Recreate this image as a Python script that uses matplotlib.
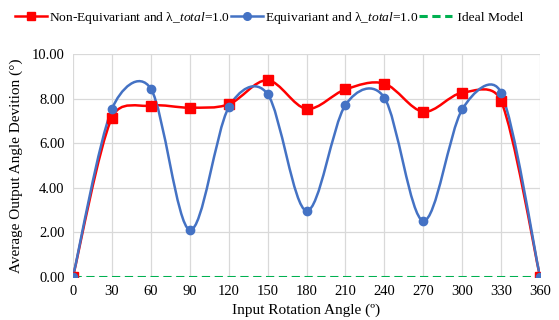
import matplotlib
matplotlib.use("Agg")
import matplotlib.pyplot as plt
import numpy as np
from matplotlib.path import Path
from matplotlib.patches import PathPatch
from matplotlib.lines import Line2D

plt.rcParams['font.family'] = ['Liberation Serif', 'DejaVu Serif']
plt.rcParams['mathtext.fontset'] = 'custom'
plt.rcParams['mathtext.it'] = 'Liberation Serif:italic'

angles = [0, 30, 60, 90, 120, 150, 180, 210, 240, 270, 300, 330, 360]
non_equiv = [0.0, 7.14, 7.68, 7.59, 7.74, 8.82, 7.54, 8.41, 8.67, 7.41, 8.26, 7.89, 0.0]
equiv = [0.0, 7.53, 8.44, 2.10, 7.60, 8.20, 2.96, 7.71, 8.04, 2.51, 7.51, 8.26, 0.0]
ideal = [0.0] * len(angles)

RED = '#ff0000'
BLUE = '#4472c4'
GREEN = '#00b050'

# pixel size of one data unit, used so the smoothing behaves like excel's
SX = 467 / 360.0
SY = 222.7 / 10.0


# excel-like smoothed line: catmull-rom bezier, arms capped to half the segment
def smooth_path(x, y, cap=0.5):
    pts = np.column_stack([np.asarray(x, float) * SX, np.asarray(y, float) * SY])
    n = len(pts)
    verts = [tuple(pts[0])]
    codes = [Path.MOVETO]
    for i in range(n - 1):
        p0 = pts[max(i - 1, 0)]
        p1 = pts[i]
        p2 = pts[i + 1]
        p3 = pts[min(i + 2, n - 1)]
        d12 = np.hypot(*(p2 - p1))
        a1 = (p2 - p0) / 6.0
        a2 = (p3 - p1) / 6.0
        for a in (a1, a2):
            la = np.hypot(*a)
            if la > cap * d12:
                a *= cap * d12 / la
        c1 = p1 + a1
        c2 = p2 - a2
        verts += [tuple(c1), tuple(c2), tuple(p2)]
        codes += [Path.CURVE4] * 3
    verts = [(vx / SX, vy / SY) for vx, vy in verts]
    return Path(verts, codes)


fig = plt.figure(figsize=(5.59, 3.2), dpi=100)
ax = fig.add_axes([73 / 559, 43.3 / 320, 467 / 559, 222.7 / 320])

dash = (0, (2.7, 1.5))
ax.plot(angles, ideal, color=GREEN, lw=2.2, ls=dash, zorder=2)

for vals, col, mk, ms in [(non_equiv, RED, 's', 6.5), (equiv, BLUE, 'o', 6)]:
    ax.add_patch(PathPatch(smooth_path(angles, vals), facecolor='none',
                           edgecolor=col, lw=1.8, zorder=3))
    ax.plot(angles, vals, ls='none', marker=mk, ms=ms, color=col, zorder=4)

ax.set_xlim(0, 360)
ax.set_ylim(0, 10)
ax.set_xticks(angles)
ax.set_yticks(np.arange(0, 10.01, 2))
ax.set_yticklabels([f"{v:.2f}" for v in np.arange(0, 10.01, 2)])
ax.tick_params(length=0, labelsize=10.5, pad=6)
ax.grid(True, color='#d9d9d9', lw=0.9)
ax.set_axisbelow(True)
for s in ax.spines.values():
    s.set_visible(False)

ax.set_xlabel("Input Rotation Angle (º)", fontsize=11, labelpad=4)
ax.set_ylabel("Average Output Angle Devition (°)", fontsize=11, labelpad=6)

handles = [
    Line2D([], [], color=RED, lw=1.8, marker='s', ms=6),
    Line2D([], [], color=BLUE, lw=1.8, marker='o', ms=5.5),
    Line2D([], [], color=GREEN, lw=2.2, ls=dash),
]
labels = [r"Non-Equivariant and λ_$total$=1.0",
          r"Equivariant and λ_$total$=1.0",
          " Ideal Model"]
fig.legend(handles, labels, loc='center left', bbox_to_anchor=(15 / 559, 0.945),
           ncol=3, frameon=False, fontsize=9.7, handlelength=2.4,
           columnspacing=0.05, handletextpad=0.15, borderpad=0, borderaxespad=0)

fig.savefig("out.png", dpi=100)
